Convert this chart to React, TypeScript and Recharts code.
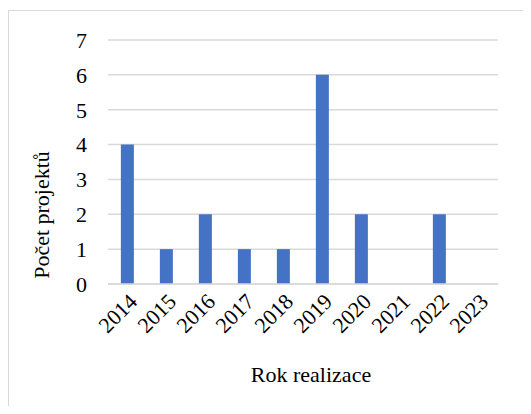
import { BarChart, Bar, XAxis, YAxis, CartesianGrid, Label } from "recharts"

// data
const years = ["2014", "2015", "2016", "2017", "2018", "2019", "2020", "2021", "2022", "2023"]
const counts = [4, 1, 2, 1, 1, 6, 2, 0, 2, 0]
const yTicks = [0, 1, 2, 3, 4, 5, 6, 7]

const data = years.map((year, i) => ({ year, count: counts[i] }))

const font = "'Liberation Serif', 'Times New Roman', serif"

function YTitle(props: any) {
	const vb = props.viewBox
	const x = vb.x + 33
	const y = vb.y + vb.height / 2 + 53
	return (
		<text
			x={x}
			y={y}
			transform={`rotate(-90, ${x}, ${y})`}
			textAnchor="middle"
			dominantBaseline="central"
			fontFamily={font}
			fontSize={22}
			fill="#000"
		>
			Počet projektů
		</text>
	)
}

export default function App() {
	return (
		<div style={{ width: 515, height: 398, overflow: "hidden", position: "relative", fontFamily: font }}>
			<div
				style={{
					position: "absolute",
					left: 0,
					top: 2,
					width: 560,
					height: 440,
					border: "1px solid #d9d9d9",
					boxSizing: "border-box",
				}}
			/>
			<BarChart
				width={515}
				height={398}
				data={data}
				margin={{ top: 32, right: 25, bottom: 18, left: 0 }}
				barCategoryGap="33%"
				style={{ position: "absolute", left: 0, top: 0 }}
			>
				<CartesianGrid vertical={false} stroke="#d9d9d9" strokeWidth={1.5} />
				<XAxis
					dataKey="year"
					axisLine={{ stroke: "#d9d9d9", strokeWidth: 1.5 }}
					tickLine={false}
					interval={0}
					angle={-45}
					textAnchor="end"
					height={104}
					tickMargin={2}
					tick={{ fill: "#000", fontSize: 22, fontFamily: font }}
				>
					<Label
						value="Rok realizace"
						position="insideBottom"
						offset={6}
						dx={8}
						style={{ fill: "#000", fontSize: 22, fontFamily: font }}
					/>
				</XAxis>
				<YAxis
					domain={[0, 7]}
					ticks={yTicks}
					interval={0}
					axisLine={false}
					tickLine={false}
					tickSize={0}
					tickMargin={21}
					width={100}
					tick={{ fill: "#000", fontSize: 22, fontFamily: font }}
				>
					<Label content={<YTitle />} />
				</YAxis>
				<Bar dataKey="count" fill="#4472C4" isAnimationActive={false} />
			</BarChart>
		</div>
	)
}
